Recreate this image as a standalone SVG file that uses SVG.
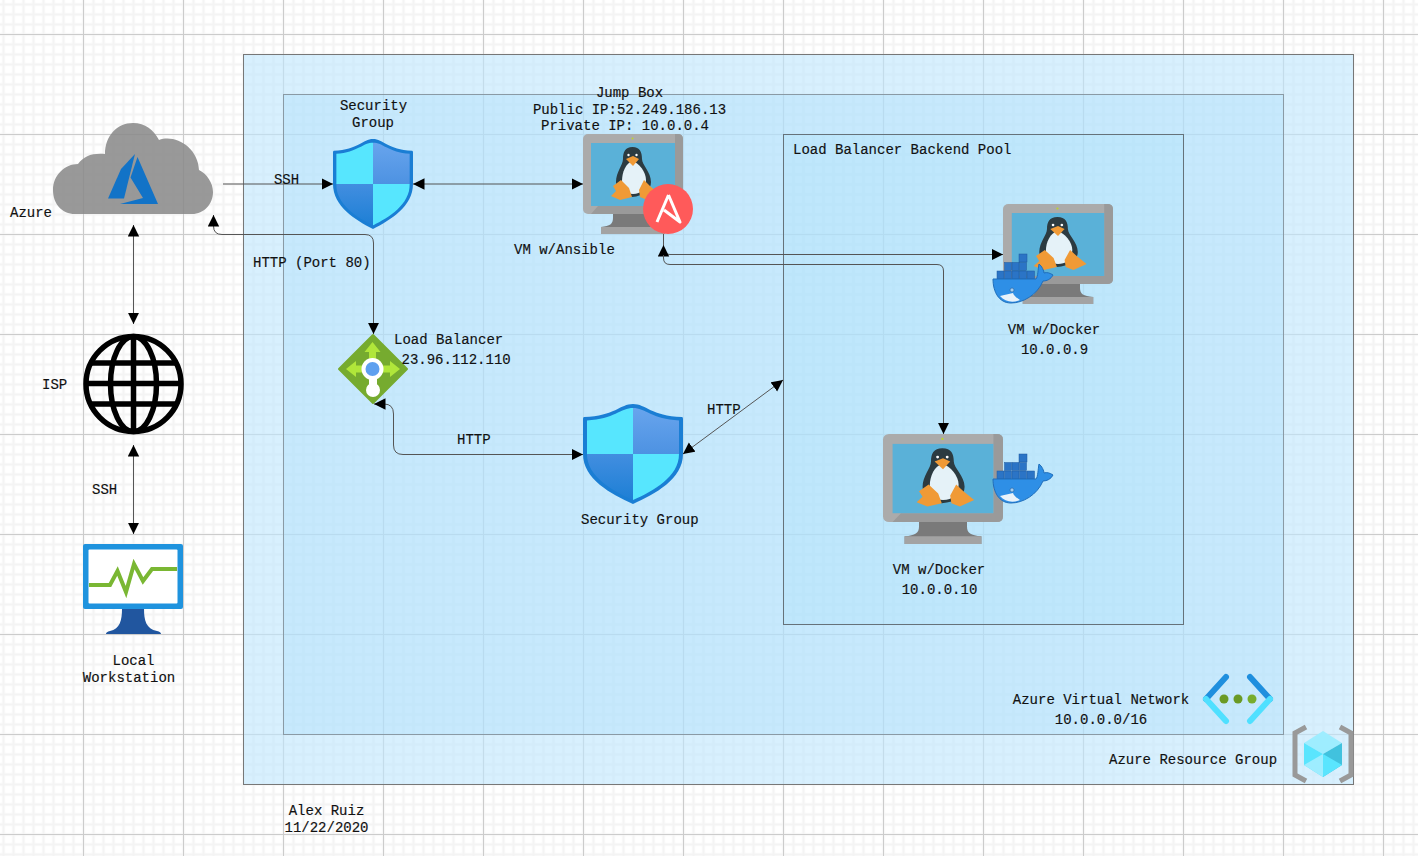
<svg xmlns="http://www.w3.org/2000/svg" xmlns:xlink="http://www.w3.org/1999/xlink" width="1418" height="856" viewBox="0 0 1418 856">
<style>
text{font-family:"Liberation Mono","DejaVu Sans Mono",monospace;font-size:14px;fill:#111;stroke:#111;stroke-width:.15}
.m{text-anchor:middle}
.c{fill:none;stroke:#555;stroke-width:1}
</style>
<defs>
<pattern id="minor" width="10" height="10" patternUnits="userSpaceOnUse" patternTransform="translate(78.500 29.500)">
<path d="M5 0V10M0 5H10" fill="none" stroke="#f4f4f4" stroke-width="2.500"/>
</pattern>
<pattern id="major" width="100" height="100" patternUnits="userSpaceOnUse" patternTransform="translate(83 34)">
<path d="M.5 0V100M0 .5H100" fill="none" stroke="#cccccc" stroke-width="1"/>
</pattern>
<marker id="a" markerUnits="userSpaceOnUse" markerWidth="12" markerHeight="12" refX="11.500" refY="6" orient="auto-start-reverse">
<path d="M0 .3L11.500 6L0 11.700Z" fill="#000"/>
</marker>
<linearGradient id="sb1" x1="0" y1="0" x2="0" y2="1"><stop offset="0" stop-color="#6aa6ee"/><stop offset="1" stop-color="#4d92e2"/></linearGradient>
<linearGradient id="sb2" x1="0" y1="0" x2="0" y2="1"><stop offset="0" stop-color="#428ee0"/><stop offset="1" stop-color="#1a7ed4"/></linearGradient>
<clipPath id="sc"><path d="M50 4C38 4 31 15 4 16.500V50C4 73 30 87 50 96C70 87 96 73 96 50V16.500C69 15 62 4 50 4Z"/></clipPath>
<g id="shield">
<path d="M50 0C37 0 32 12 1 13Q0 13 0 15V50C0 75 28 90 50 100C72 90 100 75 100 50V15Q100 13 99 13C68 12 63 0 50 0Z" fill="#1a7ed4"/>
<g clip-path="url(#sc)">
<rect x="0" y="0" width="50" height="50" fill="#57e6fe"/>
<rect x="50" y="0" width="50" height="50" fill="url(#sb1)"/>
<rect x="0" y="50" width="50" height="50" fill="url(#sb2)"/>
<rect x="50" y="50" width="50" height="50" fill="#57e6fe"/>
</g>
</g>
<g id="monitor">
<path d="M30 80H70V84C70 90 73 92 82 93V100H18V93C27 92 30 90 30 84Z" fill="#7a7a7a"/>
<path d="M18 93H82V100H18Z" fill="#a3a3a3"/>
<rect x="0" y="0" width="100" height="80" rx="5" fill="#ababab"/>
<path d="M92 0H95Q100 0 100 5V75Q100 80 95 80H8L15 72H92Z" fill="#9a9a9a"/>
<rect x="8" y="9" width="84" height="63" fill="#5ab1d8"/>
<circle cx="49.500" cy="4.500" r="1" fill="#bcd52f"/>
<path d="M49.500 13C42 13 40 18 40 25C40 31 33 38 33 48C33 56 38 62 49 63C61 62 68 56 68 48C68 38 59 31 59 25C59 18 57 13 49.500 13Z" fill="#2c3b41"/>
<path d="M49.500 27C43 29 39 38 39 47C39 55 43 60 50 60C58 60 63 55 63 46C63 38 56 29 49.500 27Z" fill="#e5f2f8"/>
<path d="M43 25L50 22L56 25L50 32Z" fill="#f09a36"/>
<path d="M30 52L38 46L46 54L49 63L37 66L28 62L33 57Z" fill="#f09a36"/>
<path d="M56 56L61 46L67 52L76 60L64 66L57 63Z" fill="#f09a36"/>
<circle cx="45.500" cy="21" r="1.200" fill="#fff"/><circle cx="53.500" cy="21" r="1.200" fill="#fff"/>
</g>
<g id="whale">
<g fill="#2b74c6" stroke="#1f5a9e" stroke-width=".5">
<rect x="26" y="0" width="8" height="8"/>
<rect x="11.500" y="8.500" width="7" height="8"/><rect x="19" y="8.500" width="7" height="8"/><rect x="26.500" y="8.500" width="7" height="8"/>
<rect x="4" y="17" width="7" height="8"/><rect x="11.500" y="17" width="7" height="8"/><rect x="19" y="17" width="7" height="8"/><rect x="26.500" y="17" width="7" height="8"/><rect x="34" y="17" width="7.500" height="8"/>
</g>
<path d="M0 25H43C45 23 45 15 46 10C49 12 51 17 51 19C54 18 57 19 60 21C58 25 54 27 50 27C44 41 30 49 18 49C6 49 0 38 0 25Z" fill="#2e8fe6" stroke="#1f6ebb" stroke-width="1"/>
<path d="M7 42C11 41 16 40 20 39C21 42 24 44 27 46C20 49 12 48 7 42Z" fill="#e8f2fa"/>
<circle cx="19" cy="36" r="2" fill="#a6cdee" stroke="#215f9e" stroke-width=".6"/>
</g>
</defs>

<rect width="1418" height="856" fill="#fff"/>
<rect width="1418" height="856" fill="url(#minor)"/>
<rect width="1418" height="856" fill="url(#major)"/>

<g id="containers">
<rect id="resource-group" x="243.500" y="54.500" width="1110" height="730" fill="#bee6fe" fill-opacity=".6" stroke="#777"/>
<rect id="virtual-network" x="283.500" y="94.500" width="1000" height="640" fill="#a0d9fc" fill-opacity=".3" stroke="#8a9aa5"/>
<rect id="backend-pool" x="783.500" y="134.500" width="400" height="490" fill="#a0e1fa" fill-opacity=".2" stroke="#66727a"/>
</g>

<g id="connectors">
<path class="c" d="M223 184H333" marker-end="url(#a)"/>
<path class="c" d="M413 184H583" marker-start="url(#a)" marker-end="url(#a)"/>
<path class="c" d="M133.500 225V324" marker-start="url(#a)" marker-end="url(#a)"/>
<path class="c" d="M133.500 445V534" marker-start="url(#a)" marker-end="url(#a)"/>
<path class="c" d="M213.500 215V226Q213.500 234.500 222 234.500H365Q373.500 234.500 373.500 243V334" marker-start="url(#a)" marker-end="url(#a)"/>
<path class="c" d="M374 404H384Q393.500 404 393.500 414V445Q393.500 454.500 403 454.500H583" marker-start="url(#a)" marker-end="url(#a)"/>
<path class="c" d="M683 454L783 380" marker-start="url(#a)" marker-end="url(#a)"/>
<path class="c" d="M663.500 234V245"/>
<path class="c" d="M663.500 245V248Q663.500 254.500 670 254.500H1003" marker-start="url(#a)" marker-end="url(#a)"/>
<path class="c" d="M663.500 255V258Q663.500 264.500 670 264.500H937Q943.500 264.500 943.500 271V434" marker-end="url(#a)"/>
</g>

<g id="azure">
<path d="M75 214C62 214 53 204 53 190C53 175 65 164 78 164C84 156 92 153 105 154C105 136 117 123 133 123C145 123 154 130 159 140C175 134 198 147 199 170C207 174 213 183 213 192C213 204 204 214 192 214Z" fill="#878787" fill-opacity=".85"/>
<path d="M135 154L121 169L108 198.500H124Z" fill="#1273c7"/>
<path d="M137.500 157L130.500 177.500L143 198L120 204H158Z" fill="#1273c7"/>
<text x="10" y="217">Azure</text>
</g>

<g id="isp">
<circle cx="133.500" cy="384" r="47.500" fill="none" stroke="#000" stroke-width="5.500"/>
<ellipse cx="133.500" cy="384" rx="23" ry="47.500" fill="none" stroke="#000" stroke-width="5.500"/>
<path d="M133.500 336V432M92 363H175M86 383.500H181M92 404H175" fill="none" stroke="#000" stroke-width="5.500"/>
<text x="42" y="389">ISP</text>
</g>

<g id="workstation">
<path d="M122 609H144C144 620 146 629 157 631Q161 632 161 634H106Q106 632 110 631C120 629 122 620 122 609Z" fill="#21569f"/>
<rect x="83" y="544" width="100" height="65" rx="2" fill="#1f93de"/>
<rect x="88.500" y="549.500" width="89" height="54" rx="1" fill="#fff"/>
<path d="M89 585H110L117.500 571L126 592L134 564L143 581L152 569H177" fill="none" stroke="#7ab733" stroke-width="4"/>
<text class="m" x="133.500" y="665">Local</text>
<text class="m" x="129" y="682">Workstation</text>
</g>

<g id="security-group-1">
<use xlink:href="#shield" transform="translate(333 139) scale(.8 .9)"/>
<text class="m" x="373.500" y="110">Security</text>
<text class="m" x="373" y="127">Group</text>
</g>

<g id="jump-box">
<use xlink:href="#monitor" transform="translate(583 134)"/>
<circle cx="668" cy="209" r="25" fill="#ff5a5a"/>
<path d="M668.500 195L657 222M668.500 195L680 222L664 210" fill="none" stroke="#fff" stroke-width="3" stroke-linejoin="round"/>
<text class="m" x="629.500" y="97">Jump Box</text>
<text class="m" x="629.500" y="114">Public IP:52.249.186.13</text>
<text class="m" x="625" y="130">Private IP: 10.0.0.4</text>
<text x="514" y="254">VM w/Ansible</text>
</g>

<g id="load-balancer">
<path d="M373 335L407 369L373 403L339 369Z" fill="#76ab2f" stroke="#76ab2f" stroke-linejoin="round" stroke-width="2"/>
<path d="M372.500 342L380.500 352H376V369H369V352H364.500Z M346 369L356 361V365.500H372V372.500H356V377Z M400 369L390 361V365.500H374V372.500H390V377Z" fill="#b0e63a"/>
<rect x="369" y="375" width="8" height="12" fill="#fff"/>
<circle cx="372.500" cy="369" r="11" fill="#fff"/>
<circle cx="372.500" cy="369" r="7" fill="#5ea0ef"/>
<circle cx="373" cy="390" r="7" fill="#fff"/>
<text x="394" y="344">Load Balancer</text>
<text x="401.500" y="364">23.96.112.110</text>
</g>

<g id="security-group-2">
<use xlink:href="#shield" transform="translate(583 404)"/>
<text x="581" y="524">Security Group</text>
</g>

<g id="vm-docker-1">
<use xlink:href="#monitor" transform="translate(1003 204) scale(1.100 1)"/>
<use xlink:href="#whale" transform="translate(993 254)"/>
<text class="m" x="1054" y="334">VM w/Docker</text>
<text class="m" x="1054.500" y="354">10.0.0.9</text>
</g>

<g id="vm-docker-2">
<use xlink:href="#monitor" transform="translate(883 434) scale(1.200 1.100)"/>
<use xlink:href="#whale" transform="translate(993 454)"/>
<text class="m" x="939" y="574">VM w/Docker</text>
<text class="m" x="939.500" y="594">10.0.0.10</text>
</g>

<g id="vnet">
<path d="M1226 677L1206 699" fill="none" stroke="#1f8fde" stroke-width="6" stroke-linecap="round"/>
<path d="M1206 699L1226 721" fill="none" stroke="#50e0ff" stroke-width="6" stroke-linecap="round"/>
<path d="M1250 677L1270 699" fill="none" stroke="#1f8fde" stroke-width="6" stroke-linecap="round"/>
<path d="M1270 699L1250 721" fill="none" stroke="#50e0ff" stroke-width="6" stroke-linecap="round"/>
<circle cx="1224" cy="699" r="4.500" fill="#6a9a25"/><circle cx="1238" cy="699" r="4.500" fill="#6a9a25"/><circle cx="1252" cy="699" r="4.500" fill="#78ad2c"/>
<text class="m" x="1101" y="704">Azure Virtual Network</text>
<text class="m" x="1101" y="724">10.0.0.0/16</text>
</g>

<g id="rg-icon">
<path d="M1306 727L1295 733V775L1306 781M1340 727L1351 733V775L1340 781" fill="none" stroke="#999" stroke-width="5"/>
<path d="M1323 731L1342 743L1323 754L1304 743Z" fill="#9eedff"/>
<path d="M1304 743L1323 754V777L1304 765Z" fill="#5ae5fe"/>
<path d="M1342 743L1323 754V777L1342 765Z" fill="#41c2de"/>
<path d="M1323 754L1304 765L1323 777Z" fill="#9eedff"/>
<path d="M1323 754L1342 765L1323 777Z" fill="#5ae5fe"/>
<text x="1109" y="764">Azure Resource Group</text>
</g>

<g id="labels">
<text class="m" x="286.500" y="184">SSH</text>
<text x="92" y="494">SSH</text>
<text x="253" y="267">HTTP (Port 80)</text>
<text x="457" y="444">HTTP</text>
<text x="707" y="414">HTTP</text>
<text x="793" y="154">Load Balancer Backend Pool</text>
<text class="m" x="326.500" y="815">Alex Ruiz</text>
<text class="m" x="326.500" y="832">11/22/2020</text>
</g>
</svg>
